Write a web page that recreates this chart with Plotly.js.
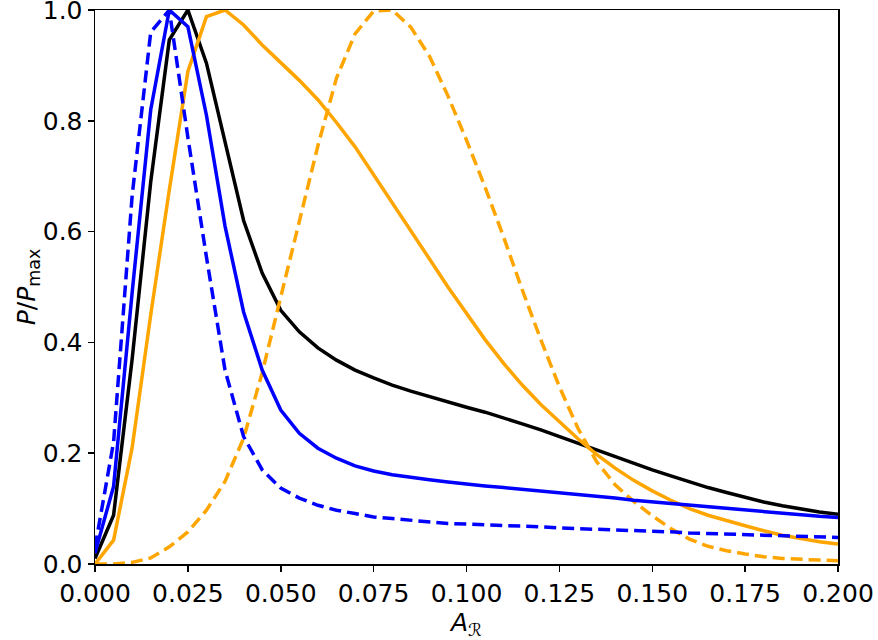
<!DOCTYPE html>
<html>
<head>
<meta charset="utf-8">
<script src="https://cdn.plot.ly/plotly-3.0.1.min.js"></script>
<style>html,body{margin:0;padding:0;background:#fff;}#chart{width:878px;height:640px;}</style>
</head>
<body>
<div id="chart"></div>
<script>
const xVals = [0.000,0.005,0.010,0.015,0.020,0.025,0.030,0.035,0.040,0.045,0.050,0.055,0.060,0.065,0.070,0.075,0.080,0.085,0.090,0.095,0.100,0.105,0.110,0.115,0.120,0.125,0.130,0.135,0.140,0.145,0.150,0.155,0.160,0.165,0.170,0.175,0.180,0.185,0.190,0.195,0.200];

const blackSolid = [0.01,0.088,0.37,0.69,0.946,1.0,0.904,0.76,0.62,0.525,0.458,0.419,0.39,0.368,0.35,0.336,0.323,0.312,0.302,0.292,0.283,0.274,0.264,0.253,0.242,0.23,0.217,0.205,0.193,0.181,0.17,0.159,0.148,0.138,0.129,0.12,0.112,0.105,0.099,0.094,0.09];

const blueSolid = [0.02,0.14,0.49,0.82,1.0,0.97,0.81,0.61,0.455,0.35,0.278,0.236,0.209,0.191,0.177,0.168,0.161,0.156,0.152,0.148,0.144,0.141,0.138,0.135,0.132,0.129,0.126,0.122,0.119,0.115,0.112,0.109,0.106,0.103,0.1,0.097,0.094,0.091,0.089,0.086,0.084];

const blueDashed = [0.03,0.22,0.665,0.96,1.0,0.77,0.554,0.35,0.23,0.17,0.137,0.119,0.106,0.097,0.091,0.085,0.082,0.079,0.076,0.073,0.072,0.071,0.069,0.068,0.067,0.065,0.064,0.062,0.061,0.06,0.059,0.058,0.056,0.055,0.054,0.053,0.052,0.051,0.05,0.049,0.048];

const orangeSolid = [0.0,0.043,0.21,0.45,0.675,0.889,0.988,1.0,0.973,0.937,0.905,0.873,0.838,0.797,0.753,0.703,0.652,0.601,0.551,0.5,0.452,0.405,0.362,0.323,0.288,0.256,0.226,0.198,0.173,0.151,0.132,0.115,0.1,0.088,0.078,0.069,0.06,0.052,0.046,0.04,0.036];

const orangeDashed = [0.0,0.0,0.003,0.011,0.031,0.058,0.097,0.149,0.227,0.345,0.482,0.617,0.755,0.877,0.957,0.998,1.0,0.969,0.917,0.845,0.765,0.68,0.59,0.495,0.405,0.32,0.245,0.185,0.143,0.113,0.087,0.064,0.045,0.032,0.024,0.018,0.013,0.01,0.008,0.007,0.006];

const xTicks = [0,0.025,0.05,0.075,0.1,0.125,0.15,0.175,0.2];
const xTickText = ["0.000","0.025","0.050","0.075","0.100","0.125","0.150","0.175","0.200"];
const yTicks = [0,0.2,0.4,0.6,0.8,1.0];
const yTickText = ["0.0","0.2","0.4","0.6","0.8","1.0"];

const W = 3.5;
function tr(y, color, dash){
  return {x:xVals, y:y, type:'scatter', mode:'lines', cliponaxis:false,
    line:{color:color, width:W, dash:dash}, showlegend:false, hoverinfo:'skip'};
}
const data = [
  tr(blackSolid,'#000000','solid'),
  tr(orangeSolid,'#ffa500','solid'),
  tr(orangeDashed,'#ffa500','12px,6px'),
  tr(blueSolid,'#0000ff','solid'),
  tr(blueDashed,'#0000ff','12px,6px')
];
const fnt = {family:'DejaVu Sans', size:25, color:'#000'};
const layout = {
  width:878, height:640,
  margin:{l:95, r:40, t:10, b:76, pad:0},
  paper_bgcolor:'#fff', plot_bgcolor:'#fff',
  font:fnt,
  xaxis:{range:[0,0.2], tickvals:xTicks, ticktext:xTickText, ticks:'outside', ticklen:6, tickwidth:1.5, tickcolor:'#000',
    showline:true, mirror:true, linecolor:'#000', linewidth:1.5, showgrid:false, zeroline:false, tickfont:fnt,
    ticklabeloverflow:'allow',
    title:{text:'<i>A</i><sub>ℛ</sub>', font:fnt, standoff:4}},
  yaxis:{range:[0,1], tickvals:yTicks, ticktext:yTickText, ticks:'outside', ticklen:6, tickwidth:1.5, tickcolor:'#000',
    showline:true, mirror:true, linecolor:'#000', linewidth:1.5, showgrid:false, zeroline:false, tickfont:fnt,
    ticklabeloverflow:'allow',
    title:{text:'<i>P</i>/<i>P</i><sub>max</sub>', font:fnt, standoff:0}}
};
Plotly.newPlot('chart', data, layout, {staticPlot:true, displayModeBar:false});
</script>
</body>
</html>
